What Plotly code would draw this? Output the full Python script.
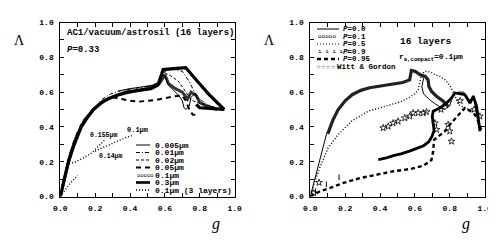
import plotly.graph_objects as go

# ---------------- data ----------------
TICK_VALS = [0.0, 0.2, 0.4, 0.6, 0.8, 1.0]
TICK_TEXT = ["0.0", "0.2", "0.4", "0.6", "0.8", "1.0"]

# Left panel: AC1/vacuum/astrosil (16 layers), P=0.33
L_G_0005 = [0.33, 0.40, 0.47, 0.53, 0.57, 0.58, 0.60, 0.62, 0.65, 0.68, 0.70, 0.71, 0.72, 0.74, 0.75, 0.77, 0.79]
L_L_0005 = [0.605, 0.62, 0.63, 0.64, 0.66, 0.71, 0.69, 0.64, 0.61, 0.58, 0.55, 0.51, 0.50, 0.52, 0.57, 0.59, 0.56]

L_G_001 = [0.0, 0.04, 0.08, 0.12, 0.16, 0.20, 0.24, 0.29, 0.35, 0.42, 0.50, 0.56, 0.60, 0.65, 0.70, 0.74, 0.77, 0.80, 0.84, 0.88]
L_L_001 = [0.0, 0.20, 0.33, 0.42, 0.47, 0.51, 0.56, 0.59, 0.61, 0.62, 0.63, 0.64, 0.72, 0.73, 0.72, 0.66, 0.60, 0.56, 0.53, 0.51]

L_G_002 = [0.60, 0.64, 0.68, 0.70, 0.72, 0.74, 0.76, 0.79, 0.82, 0.86, 0.90, 0.93]
L_L_002 = [0.71, 0.69, 0.66, 0.63, 0.60, 0.57, 0.55, 0.54, 0.53, 0.52, 0.51, 0.50]

L_G_005 = [0.30, 0.35, 0.40, 0.45, 0.50, 0.55, 0.60, 0.65, 0.70, 0.72, 0.74, 0.76, 0.79]
L_L_005 = [0.57, 0.56, 0.55, 0.545, 0.55, 0.555, 0.565, 0.575, 0.58, 0.55, 0.50, 0.47, 0.47]

L_G_01 = [0.0, 0.03, 0.06, 0.10, 0.14, 0.19, 0.25, 0.32, 0.40, 0.50, 0.57, 0.60, 0.62, 0.66, 0.70, 0.73, 0.75, 0.78, 0.80, 0.84, 0.90]
L_L_01 = [0.0, 0.13, 0.25, 0.36, 0.44, 0.50, 0.55, 0.58, 0.60, 0.62, 0.65, 0.70, 0.65, 0.62, 0.60, 0.56, 0.60, 0.58, 0.54, 0.52, 0.50]

L_G_03 = [0.0, 0.02, 0.044, 0.08, 0.12, 0.16, 0.19, 0.23, 0.27, 0.32, 0.38, 0.45, 0.52, 0.56, 0.58, 0.59, 0.65, 0.72, 0.78, 0.85, 0.94, 0.88, 0.80, 0.78]
L_L_03 = [0.0, 0.09, 0.19, 0.30, 0.40, 0.46, 0.50, 0.535, 0.56, 0.58, 0.60, 0.61, 0.62, 0.64, 0.70, 0.73, 0.735, 0.74, 0.67, 0.59, 0.50, 0.505, 0.51, 0.53]

L_G_3L = [0.0, 0.03, 0.06, 0.10, None, 0.05, 0.09, 0.13, 0.18, 0.21, 0.24, 0.26, None, 0.20, 0.24, 0.29, 0.33, 0.38, 0.41]
L_L_3L = [0.0, 0.04, 0.08, 0.12, None, 0.19, 0.20, 0.22, 0.25, 0.28, 0.31, 0.33, None, 0.26, 0.28, 0.30, 0.32, 0.34, 0.35]

# Right panel: 16 layers, r_a,compact = 0.1 um
R_G_P00 = [0.0, 0.03, 0.06, 0.092, 0.13, 0.16, 0.20, 0.24, 0.30, 0.38, 0.47, 0.54, 0.57, 0.58, 0.62, 0.65, 0.64, 0.65, 0.68, 0.72, 0.77, 0.80, 0.82, 0.85, 0.88, 0.90, 0.92, 0.935, 0.95, 0.96, 0.97]
R_L_P00 = [0.0, 0.12, 0.24, 0.355, 0.44, 0.50, 0.55, 0.585, 0.615, 0.635, 0.645, 0.655, 0.68, 0.72, 0.71, 0.68, 0.63, 0.59, 0.56, 0.53, 0.50, 0.52, 0.59, 0.60, 0.60, 0.57, 0.55, 0.58, 0.50, 0.44, 0.38]

R_G_P01 = [0.10, 0.13, 0.16, 0.20, 0.24, 0.29, 0.34, 0.40, 0.47, 0.53, 0.57, 0.58, 0.60, 0.63, 0.66, 0.676, 0.68, 0.695, 0.724, 0.763, 0.791]
R_L_P01 = [0.36, 0.44, 0.50, 0.55, 0.585, 0.61, 0.625, 0.635, 0.645, 0.655, 0.67, 0.725, 0.72, 0.70, 0.69, 0.67, 0.633, 0.605, 0.576, 0.547, 0.518]

R_G_P05 = [0.0, 0.02, 0.054, 0.102, 0.159, 0.236, 0.332, 0.40, 0.466, 0.52, 0.562, 0.60, 0.619, 0.629, 0.638, 0.657, 0.69, 0.715, 0.745, 0.772, 0.80, 0.83, 0.849, 0.887, 0.935]
R_L_P05 = [0.0, 0.07, 0.164, 0.279, 0.355, 0.432, 0.49, 0.51, 0.528, 0.545, 0.566, 0.59, 0.614, 0.662, 0.70, 0.72, 0.715, 0.70, 0.69, 0.671, 0.64, 0.58, 0.528, 0.509, 0.49]

R_G_P09_SPARSE = [0.03, 0.092, 0.165]
R_L_P09_SPARSE = [0.03, 0.07, 0.11]
R_G_P09 = [0.39, 0.43, 0.477, 0.52, 0.573, 0.62, 0.65, 0.68, 0.698, 0.71, 0.705, 0.70, 0.705, 0.744, 0.78, 0.81, 0.83, 0.86, 0.887, 0.916, 0.935, 0.954, 0.964, 0.974]
R_L_P09 = [0.212, 0.22, 0.235, 0.245, 0.262, 0.28, 0.292, 0.315, 0.345, 0.38, 0.42, 0.46, 0.49, 0.509, 0.535, 0.566, 0.595, 0.59, 0.585, 0.537, 0.576, 0.518, 0.432, 0.375]

R_G_P095 = [0.0, 0.056, 0.113, 0.19, 0.286, 0.38, 0.477, 0.573, 0.65, 0.695, 0.705, 0.71, 0.744, 0.772, 0.80, 0.849, 0.887, 0.92, 0.945, 0.965, 0.983]
R_L_P095 = [0.0, 0.03, 0.049, 0.078, 0.106, 0.125, 0.145, 0.158, 0.178, 0.21, 0.26, 0.326, 0.355, 0.375, 0.413, 0.47, 0.509, 0.49, 0.47, 0.43, 0.375]

WG_G = [0.02, 0.05, 0.418, 0.447, 0.475, 0.504, 0.542, 0.571, 0.59, 0.619, 0.648, 0.667, 0.715, 0.724, 0.75, 0.791, 0.80, 0.81, 0.86, 0.94, 0.973]
WG_L = [0.02, 0.08, 0.394, 0.403, 0.422, 0.432, 0.451, 0.461, 0.48, 0.48, 0.48, 0.486, 0.422, 0.384, 0.50, 0.413, 0.375, 0.317, 0.55, 0.50, 0.461]

# ---------------- figure ----------------
W, H = 496, 242
def px(x):
    return x / W
def py(y):
    return 1 - y / H

MONO = "Liberation Mono"
INK = "black"

fig = go.Figure()

def line(xs, ys, ax, width, dash="solid", color=INK):
    fig.add_trace(go.Scatter(x=xs, y=ys, xaxis="x" + ax, yaxis="y" + ax, mode="lines",
                             line=dict(color=color, width=width, dash=dash),
                             connectgaps=False, showlegend=False, hoverinfo="skip"))

# left panel
line(L_G_01, L_L_01, "", 3.0, "solid", "#333")
line(L_G_03, L_L_03, "", 3.2)
line(L_G_005, L_L_005, "", 2.0, "5px,4px")
line(L_G_002, L_L_002, "", 1.0, "3px,2px")
line(L_G_001, L_L_001, "", 1.0, "4px,2px,1px,2px")
line(L_G_0005, L_L_0005, "", 1.0)
line(L_G_3L, L_L_3L, "", 1.4, "1px,2px")

# right panel
line(R_G_P00, R_L_P00, "2", 1.0)
line(R_G_P01, R_L_P01, "2", 3.2, "solid", "#222")
line(R_G_P05, R_L_P05, "2", 1.4, "1px,2px")
line(R_G_P09, R_L_P09, "2", 2.8)
fig.add_trace(go.Scatter(x=R_G_P09_SPARSE, y=R_L_P09_SPARSE, xaxis="x2", yaxis="y2", mode="markers",
                         marker=dict(symbol="line-ns-open", size=4, color=INK, line=dict(color=INK, width=1)),
                         showlegend=False, hoverinfo="skip"))
line(R_G_P095, R_L_P095, "2", 2.4, "4px,3px")
fig.add_trace(go.Scatter(x=WG_G, y=WG_L, xaxis="x2", yaxis="y2", mode="markers",
                         marker=dict(symbol="star-open", size=5, color=INK, line=dict(color=INK, width=0.8)),
                         showlegend=False, hoverinfo="skip"))

tickfont = dict(family=MONO, size=8, color=INK)
BOLD_TICKS = ["<b>%s</b>" % t for t in TICK_TEXT]
def common(standoff):
    return dict(range=[0, 1], tickvals=TICK_VALS, ticktext=BOLD_TICKS,
                ticks="inside", ticklen=4, tickwidth=1, tickcolor=INK, mirror="allticks",
                showline=True, linecolor=INK, linewidth=1, showgrid=False, zeroline=False,
                tickfont=tickfont, ticklabelstandoff=standoff, automargin=False,
                minor=dict(dtick=0.1, tick0=0, ticks="inside", ticklen=4, tickcolor=INK, showgrid=False))
def xax(domain, anchor):
    d = common(4)
    d.update(domain=domain, anchor=anchor)
    return d
def yax(anchor):
    d = common(4)
    d.update(domain=[py(188.5), py(14.5)], anchor=anchor)
    return d

ann = []
def text(x, y, s, size=9, xanchor="left", family=MONO):
    ann.append(dict(xref="paper", yref="paper", x=px(x), y=py(y), text=s, showarrow=False,
                    xanchor=xanchor, yanchor="middle", font=dict(family=family, size=size, color=INK)))

shapes = []
def sample(x0, x1, y, width, dash="solid"):
    shapes.append(dict(type="line", xref="paper", yref="paper", x0=px(x0), x1=px(x1), y0=py(y), y1=py(y),
                       line=dict(color=INK, width=width, dash=dash)))

# axis titles
for off in (0, 250):
    text(11 + off, 32, "Λ", size=14, xanchor="center", family="Liberation Serif")
    text(208 + off, 216, "<i>g</i>", size=16, xanchor="center", family="Liberation Serif")

# left panel texts
text(57, 25, "<b>AC1/vacuum/astrosil (16 layers)</b>", size=9)
text(57, 42, "<b><i>P</i>=0.33</b>", size=9)
text(80, 127, "<b>0.155μm</b>", size=6.5)
text(89, 148, "<b>0.14μm</b>", size=6.5)
text(117, 122, "<b>0.1μm</b>", size=7)

# left legend
LEFT_LEG = ["0.005μm", "0.01μm", "0.02μm", "0.05μm", "0.1μm", "0.3μm", "0.1μm (3 layers)"]
rows = [137, 144.5, 152, 159.5, 167, 174.5, 182]
sample(128, 142, rows[0], 1.0)
sample(128, 142, rows[1], 1.0, "4px,2px,1px,2px")
sample(128, 142, rows[2], 1.0, "3px,2px")
sample(128, 142, rows[3], 2.0, "5px,4px")
text(127, rows[4], "ooooo", size=5.5)
sample(128, 142, rows[5], 2.6)
sample(128, 142, rows[6], 1.4, "1px,2px")
for r, lab in zip(rows, LEFT_LEG):
    text(145, r, "<b>%s</b>" % lab, size=8)

# right panel texts
text(390, 33, "<b>16 layers</b>", size=9.5)
text(389, 49, "<b>r<sub>a,compact</sub>=0.1μm</b>", size=8)

RIGHT_LEG = ["<i>P</i>=0.0", "<i>P</i>=0.1", "<i>P</i>=0.5", "<i>P</i>=0.9", "<i>P</i>=0.95", "Witt & Gordon"]
rrows = [21, 28.5, 36, 43.5, 51, 58.5]
sample(309, 331, rrows[0], 1.0)
text(308, rrows[1], "ooooo", size=6)
sample(309, 331, rrows[2], 1.2, "1px,2px")
text(308, rrows[3], "ı ı ı ı ı", size=6)
sample(309, 331, rrows[4], 2.4, "4px,3px")
text(306, rrows[5], "☆☆☆☆☆", size=5.5, family="DejaVu Sans")
for r, lab in zip(rrows, RIGHT_LEG):
    text(333 if r != rrows[5] else 327, r, "<b>%s</b>" % lab, size=7.5)

fig.update_layout(
    width=W, height=H, margin=dict(l=0, r=0, t=0, b=0), template="none",
    paper_bgcolor="white", plot_bgcolor="white", showlegend=False,
    xaxis=xax([px(52.3), px(226.6)], "y"), yaxis=yax("x"),
    xaxis2=xax([px(302.3), px(476.6)], "y2"), yaxis2=yax("x2"),
    annotations=ann, shapes=shapes,
)

fig.write_html("out.html")
